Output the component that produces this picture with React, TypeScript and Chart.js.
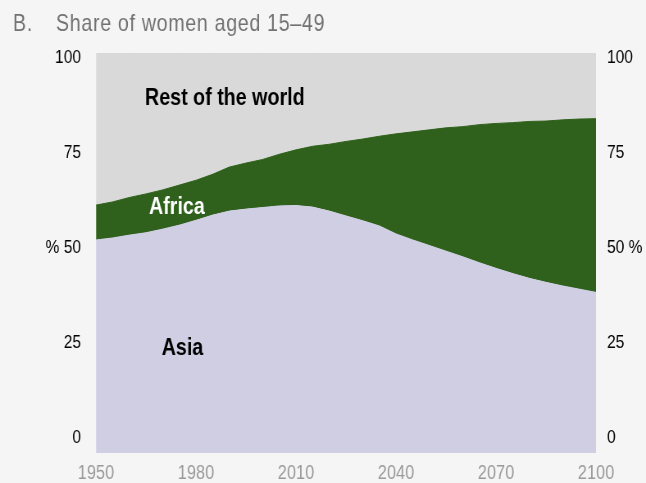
import React, { useEffect, useRef } from "react";
import { Chart, registerables } from "chart.js";

Chart.register(...registerables);

const years = [
  1950, 1955, 1960, 1965, 1970, 1975, 1980, 1985, 1990, 1995, 2000, 2005, 2010, 2015, 2020, 2025,
  2030, 2035, 2040, 2045, 2050, 2055, 2060, 2065, 2070, 2075, 2080, 2085, 2090, 2095, 2100,
];
const asia = [
  53.3, 53.8, 54.5, 55.1, 56.0, 57.0, 58.2, 59.5, 60.5, 61.0, 61.4, 61.8, 61.9, 61.5, 60.5, 59.3,
  58.1, 56.8, 54.8, 53.3, 51.9, 50.5, 49.1, 47.6, 46.2, 44.9, 43.7, 42.7, 41.8, 41.0, 40.2,
];
const africa = [
  8.7, 9.0, 9.4, 9.7, 9.8, 10.0, 10.0, 10.2, 11.0, 11.5, 12.0, 12.9, 13.9, 15.2, 16.7, 18.6,
  20.4, 22.4, 25.0, 27.0, 28.9, 30.8, 32.5, 34.5, 36.2, 37.7, 39.2, 40.3, 41.5, 42.5, 43.4,
];
const restOfWorld = [
  38.0, 37.2, 36.1, 35.2, 34.2, 33.0, 31.8, 30.3, 28.5, 27.5, 26.6, 25.3, 24.2, 23.3, 22.8, 22.1,
  21.5, 20.8, 20.2, 19.7, 19.2, 18.7, 18.4, 17.9, 17.6, 17.4, 17.1, 17.0, 16.7, 16.5, 16.4,
];
const xTicks = [1950, 1980, 2010, 2040, 2070, 2100];
const yTicks = [0, 25, 50, 75, 100];

const seriesNames = ["Asia", "Africa", "Rest of the world"];
const labelYears = [1969.7, 1965.9, 1964.7];
const labelValues = [24.6, 59.8, 87.1];
const labelColors = ["#000000", "#ffffff", "#000000"];

const COLORS = ["#cfcee3", "#2f611c", "#d9d9d9"];
const FONT = "'Liberation Sans', Arial, sans-serif";

// The chart is drawn on a wider canvas and condensed horizontally, so that
// the Arial-metric text takes the narrow shape of the reference typeface.
const VIEW_W = 646;
const VIEW_H = 483;
const SQUEEZE = 0.82;
const CANVAS_W = Math.round(VIEW_W / SQUEEZE);
const K = CANVAS_W / VIEW_W;

export default function App() {
  const ref = useRef<HTMLCanvasElement | null>(null);

  useEffect(() => {
    document.body.style.margin = "0";
    document.body.style.background = "#f5f5f5";
    const canvas = ref.current;
    if (!canvas) return;

    const titlePlugin = {
      id: "titleAndLabels",
      afterDatasetsDraw(chart: any) {
        const ctx = chart.ctx as CanvasRenderingContext2D;
        const xs = chart.scales.x;
        const ys = chart.scales.y;
        ctx.save();
        ctx.textBaseline = "alphabetic";
        ctx.textAlign = "left";
        ctx.font = `bold 24px ${FONT}`;
        seriesNames.forEach((name, i) => {
          ctx.fillStyle = labelColors[i];
          ctx.fillText(name, xs.getPixelForValue(labelYears[i]), ys.getPixelForValue(labelValues[i]));
        });
        ctx.restore();
      },
      afterDraw(chart: any) {
        const ctx = chart.ctx as CanvasRenderingContext2D;
        ctx.save();
        ctx.fillStyle = "#727272";
        ctx.font = `24px ${FONT}`;
        (ctx as any).letterSpacing = "0.8px";
        ctx.textBaseline = "alphabetic";
        ctx.textAlign = "left";
        ctx.fillText("B.", 13 * K, 31);
        ctx.fillText("Share of women aged 15\u201349", 56 * K, 31);
        ctx.restore();
      },
    };

    const mk = (vals: number[]) => years.map((yr, i) => ({ x: yr, y: vals[i] }));

    const chart = new Chart(canvas, {
      type: "line",
      data: {
        datasets: [
          { label: seriesNames[0], data: mk(asia), fill: "origin" },
          { label: seriesNames[1], data: mk(africa), fill: "-1" },
          { label: seriesNames[2], data: mk(restOfWorld), fill: "-1" },
        ].map((d, i) => ({
          ...d,
          backgroundColor: COLORS[i],
          borderColor: COLORS[i],
          borderWidth: 1,
          pointRadius: 0,
          tension: 0,
          yAxisID: "y",
        })) as any,
      },
      options: {
        animation: false,
        responsive: false,
        devicePixelRatio: 1,
        layout: { padding: { top: 53, left: 0, right: 0, bottom: 0 } },
        plugins: { legend: { display: false }, tooltip: { enabled: false }, title: { display: false } },
        scales: {
          x: {
            type: "linear",
            min: 1950,
            max: 2100,
            grid: { display: false, drawTicks: false },
            border: { display: false },
            afterBuildTicks: (s: any) => {
              s.ticks = xTicks.map((v) => ({ value: v }));
            },
            afterFit: (s: any) => {
              s.height = 27;
            },
            ticks: {
              padding: 8,
              color: "#9a9a9a",
              font: { family: FONT, size: 20 },
              maxRotation: 0,
              autoSkip: false,
              callback: (v: any) => String(v),
            },
          },
          y: {
            display: false,
            stacked: true,
            min: 0,
            max: 100,
          },
          yl: {
            type: "linear",
            position: "left",
            min: -4.2,
            max: 101.3,
            grid: { display: false, drawTicks: false },
            border: { display: false },
            afterBuildTicks: (s: any) => {
              s.ticks = yTicks.map((v) => ({ value: v }));
            },
            afterFit: (s: any) => {
              s.width = 96 * K;
            },
            ticks: {
              padding: 15 * K,
              color: "#000000",
              font: { family: FONT, size: 19 },
              callback: (v: any) => (v === 50 ? "% 50" : String(v)),
            },
          },
          yr: {
            type: "linear",
            position: "right",
            min: -4.2,
            max: 101.3,
            grid: { display: false, drawTicks: false },
            border: { display: false },
            afterBuildTicks: (s: any) => {
              s.ticks = yTicks.map((v) => ({ value: v }));
            },
            afterFit: (s: any) => {
              s.width = 50 * K;
            },
            ticks: {
              padding: 11 * K,
              color: "#000000",
              font: { family: FONT, size: 19 },
              callback: (v: any) => (v === 50 ? "50 %" : String(v)),
            },
          },
        },
      } as any,
      plugins: [titlePlugin],
    });

    return () => chart.destroy();
  }, []);

  return (
    <div style={{ width: VIEW_W, height: VIEW_H, background: "#f5f5f5", overflow: "hidden" }}>
      <canvas
        ref={ref}
        width={CANVAS_W}
        height={VIEW_H}
        style={{
          display: "block",
          width: CANVAS_W,
          height: VIEW_H,
          transform: `scaleX(${VIEW_W / CANVAS_W})`,
          transformOrigin: "0 0",
        }}
      />
    </div>
  );
}
